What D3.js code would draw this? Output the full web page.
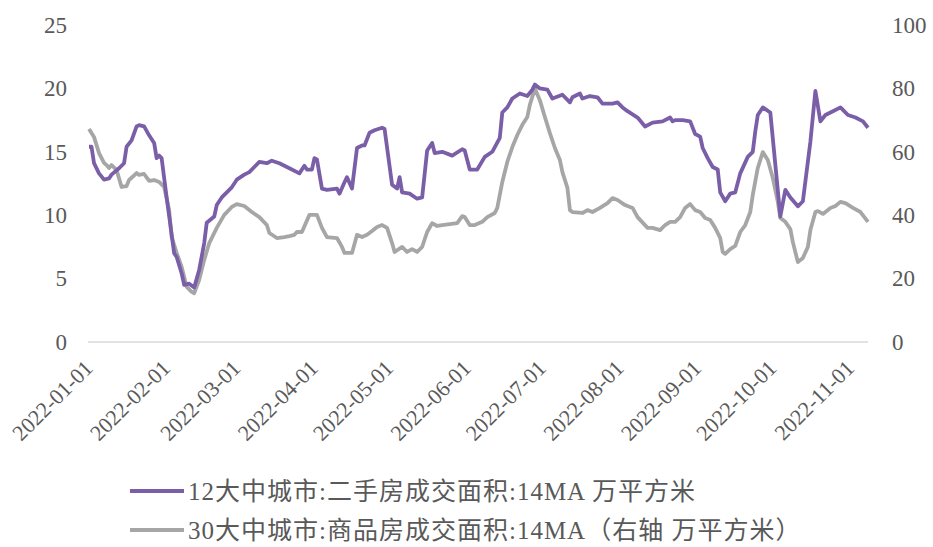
<!DOCTYPE html>
<html>
<head>
<meta charset="utf-8">
<script src="https://cdn.jsdelivr.net/npm/d3@7"></script>
<style>
  body { margin: 0; background: #fff; }
  text { font-family: "Liberation Serif", "Noto Sans CJK SC", serif; fill: #595959; }
</style>
</head>
<body>
<div id="viz"></div>
<script>
// 12大中城市 二手房 (left axis)
var secondDates = ["2022-01-01","2022-01-02","2022-01-03","2022-01-05","2022-01-07","2022-01-09","2022-01-10","2022-01-13","2022-01-15","2022-01-16","2022-01-18","2022-01-20","2022-01-21","2022-01-23","2022-01-25","2022-01-27","2022-01-28","2022-01-29","2022-01-30","2022-02-01","2022-02-04","2022-02-05","2022-02-07","2022-02-08","2022-02-10","2022-02-12","2022-02-14","2022-02-16","2022-02-17","2022-02-20","2022-02-21","2022-02-23","2022-02-25","2022-02-27","2022-03-01","2022-03-04","2022-03-06","2022-03-08","2022-03-10","2022-03-13","2022-03-15","2022-03-18","2022-03-22","2022-03-26","2022-03-28","2022-03-29","2022-03-31","2022-04-01","2022-04-02","2022-04-04","2022-04-06","2022-04-10","2022-04-11","2022-04-13","2022-04-14","2022-04-16","2022-04-18","2022-04-20","2022-04-21","2022-04-23","2022-04-25","2022-04-28","2022-04-29","2022-05-02","2022-05-04","2022-05-05","2022-05-06","2022-05-09","2022-05-12","2022-05-14","2022-05-16","2022-05-18","2022-05-19","2022-05-22","2022-05-26","2022-05-30","2022-05-31","2022-06-02","2022-06-05","2022-06-08","2022-06-11","2022-06-14","2022-06-15","2022-06-17","2022-06-19","2022-06-22","2022-06-25","2022-06-27","2022-06-28","2022-06-30","2022-07-03","2022-07-05","2022-07-09","2022-07-12","2022-07-13","2022-07-16","2022-07-17","2022-07-20","2022-07-23","2022-07-25","2022-07-29","2022-07-31","2022-08-02","2022-08-04","2022-08-08","2022-08-11","2022-08-14","2022-08-18","2022-08-21","2022-08-22","2022-08-23","2022-08-26","2022-08-29","2022-08-31","2022-09-02","2022-09-03","2022-09-05","2022-09-07","2022-09-09","2022-09-10","2022-09-12","2022-09-14","2022-09-16","2022-09-18","2022-09-21","2022-09-23","2022-09-24","2022-09-25","2022-09-27","2022-09-30","2022-10-02","2022-10-04","2022-10-06","2022-10-08","2022-10-11","2022-10-13","2022-10-16","2022-10-18","2022-10-20","2022-10-22","2022-10-25","2022-10-28","2022-10-31","2022-11-03","2022-11-06","2022-11-08"];
var secondValues = [15.4,15.4,14.1,13.3,12.8,12.9,13.2,13.7,14.1,15.4,15.9,17.0,17.1,17.0,16.3,15.7,14.5,14.7,14.5,11.4,7.0,6.7,5.4,4.5,4.6,4.3,5.7,7.8,9.4,9.9,10.8,11.4,11.8,12.2,12.8,13.2,13.4,13.8,14.2,14.1,14.3,14.1,13.7,13.3,13.9,13.6,13.6,14.5,14.4,12.1,12.0,12.1,11.7,12.6,13.0,12.1,15.3,15.5,15.5,16.5,16.7,16.9,16.8,12.4,12.1,13.0,11.8,11.7,11.3,11.4,15.1,15.7,14.9,15.0,14.7,15.2,15.1,13.6,13.6,14.6,15.0,16.1,18.1,18.5,19.2,19.6,19.4,19.9,20.3,20.0,19.9,19.2,19.5,18.9,19.3,19.6,19.2,19.4,19.3,18.8,18.8,18.9,18.5,18.2,17.7,17.0,17.3,17.4,17.7,17.4,17.5,17.5,17.4,16.4,16.2,15.3,14.5,13.8,13.6,11.8,11.1,11.7,11.8,13.3,14.6,15.0,16.6,17.9,18.5,18.1,14.0,9.9,12.0,11.4,10.7,11.1,15.8,19.8,17.4,17.9,18.2,18.5,17.9,17.7,17.4,16.9];

// 30大中城市 商品房 (right axis)
var newDates = ["2022-01-01","2022-01-03","2022-01-05","2022-01-07","2022-01-08","2022-01-09","2022-01-10","2022-01-12","2022-01-14","2022-01-16","2022-01-17","2022-01-20","2022-01-21","2022-01-23","2022-01-25","2022-01-27","2022-01-29","2022-01-31","2022-02-02","2022-02-03","2022-02-05","2022-02-07","2022-02-09","2022-02-11","2022-02-12","2022-02-14","2022-02-16","2022-02-18","2022-02-21","2022-02-24","2022-02-27","2022-03-01","2022-03-04","2022-03-07","2022-03-10","2022-03-13","2022-03-14","2022-03-17","2022-03-20","2022-03-22","2022-03-24","2022-03-25","2022-03-27","2022-03-30","2022-04-02","2022-04-04","2022-04-06","2022-04-10","2022-04-12","2022-04-13","2022-04-16","2022-04-18","2022-04-20","2022-04-22","2022-04-24","2022-04-26","2022-04-28","2022-04-30","2022-05-02","2022-05-03","2022-05-06","2022-05-08","2022-05-10","2022-05-12","2022-05-14","2022-05-16","2022-05-18","2022-05-20","2022-05-22","2022-05-25","2022-05-28","2022-05-30","2022-05-31","2022-06-02","2022-06-04","2022-06-07","2022-06-09","2022-06-12","2022-06-13","2022-06-15","2022-06-17","2022-06-19","2022-06-21","2022-06-23","2022-06-25","2022-06-26","2022-06-28","2022-06-30","2022-07-02","2022-07-04","2022-07-06","2022-07-08","2022-07-09","2022-07-11","2022-07-12","2022-07-13","2022-07-17","2022-07-19","2022-07-21","2022-07-24","2022-07-27","2022-07-29","2022-07-31","2022-08-03","2022-08-06","2022-08-08","2022-08-12","2022-08-14","2022-08-17","2022-08-19","2022-08-21","2022-08-23","2022-08-25","2022-08-27","2022-08-29","2022-08-31","2022-09-02","2022-09-04","2022-09-06","2022-09-08","2022-09-10","2022-09-11","2022-09-12","2022-09-14","2022-09-16","2022-09-18","2022-09-20","2022-09-22","2022-09-23","2022-09-25","2022-09-27","2022-09-29","2022-10-01","2022-10-03","2022-10-04","2022-10-06","2022-10-08","2022-10-09","2022-10-11","2022-10-13","2022-10-15","2022-10-16","2022-10-18","2022-10-19","2022-10-21","2022-10-24","2022-10-26","2022-10-28","2022-10-30","2022-11-02","2022-11-05","2022-11-08"];
var newValues = [67.2,64.7,59.6,56.5,55.8,54.9,55.8,54.3,48.9,49.2,51.1,53.3,52.7,53.0,50.8,51.1,50.5,48.9,41.6,33.1,28.1,23.7,17.4,15.8,15.4,19.6,25.9,31.2,36.0,40.1,42.6,43.5,42.9,41.0,39.4,36.9,34.4,32.8,33.1,33.4,33.8,34.7,34.7,40.1,40.1,36.0,33.1,32.8,30.0,28.1,28.1,33.8,33.1,33.8,35.0,36.3,36.9,36.0,31.2,28.4,30.0,28.4,29.3,28.4,30.0,34.7,37.5,36.6,36.9,37.2,37.5,39.7,39.4,36.9,36.9,37.9,39.4,40.7,42.3,50.5,56.8,61.5,65.3,68.5,71.0,74.8,80.0,76.3,71.0,65.9,61.2,57.4,53.6,48.6,41.6,41.0,40.7,41.6,41.0,42.3,43.8,45.4,44.8,43.2,42.3,39.4,36.0,36.0,35.3,36.9,37.9,37.9,39.4,42.3,43.5,41.6,41.0,39.1,38.5,36.0,32.8,28.4,27.8,29.3,30.3,34.7,36.9,41.0,46.4,54.9,59.9,57.4,51.7,44.2,39.1,37.9,35.6,31.5,25.2,26.5,30.0,35.3,41.0,41.3,40.4,42.3,42.9,44.2,43.8,42.3,41.0,37.9];

var leftTicks = [0, 5, 10, 15, 20, 25];
var rightTicks = [0, 20, 40, 60, 80, 100];
var dateTicks = ["2022-01-01","2022-02-01","2022-03-01","2022-04-01","2022-05-01","2022-06-01","2022-07-01","2022-08-01","2022-09-01","2022-10-01","2022-11-01"];
var legendLabels = ["12大中城市:二手房成交面积:14MA 万平方米", "30大中城市:商品房成交面积:14MA（右轴 万平方米）"];

var width = 933, height = 547;
var purple = "#7b5ea8", grey = "#a6a6a6";
var parse = d3.timeParse("%Y-%m-%d");

var x = d3.scaleTime()
  .domain([parse("2022-01-01"), parse("2022-11-08")])
  .range([89, 868]);
var yL = d3.scaleLinear().domain([0, 25]).range([342, 25]);
var yR = d3.scaleLinear().domain([0, 100]).range([342, 25]);

var svg = d3.select("#viz").append("svg")
  .attr("width", width)
  .attr("height", height);

// baseline
svg.append("line")
  .attr("x1", 88).attr("x2", 868)
  .attr("y1", yL(0)).attr("y2", yL(0))
  .attr("stroke", "#d9d9d9").attr("stroke-width", 1.5);

var leftAxis = d3.axisLeft(yL).tickValues(leftTicks).tickSize(0).tickPadding(0);
svg.append("g")
  .attr("transform", "translate(67,0)")
  .call(leftAxis)
  .call(function(g) { g.select(".domain").remove(); })
  .selectAll("text")
    .style("font-size", "23px")
    .attr("fill", "#595959");

var rightAxis = d3.axisRight(yR).tickValues(rightTicks).tickSize(0).tickPadding(0);
svg.append("g")
  .attr("transform", "translate(892,0)")
  .call(rightAxis)
  .call(function(g) { g.select(".domain").remove(); })
  .selectAll("text")
    .style("font-size", "23px")
    .attr("fill", "#595959");

var bottomAxis = d3.axisBottom(x)
  .tickValues(dateTicks.map(parse))
  .tickFormat(d3.timeFormat("%Y-%m-%d"))
  .tickSize(0).tickPadding(0);
svg.append("g")
  .attr("transform", "translate(0," + (yL(0) + 22) + ")")
  .call(bottomAxis)
  .call(function(g) { g.select(".domain").remove(); })
  .selectAll("text")
    .style("font-size", "22px")
    .attr("fill", "#595959")
    .attr("text-anchor", "end")
    .attr("dy", "0.35em")
    .attr("transform", "translate(-1,0) rotate(-45)");

var line = function(yScale) {
  return d3.line()
    .x(function(d) { return x(d[0]); })
    .y(function(d) { return yScale(d[1]); });
};

var greyData = newDates.map(function(d, i) { return [parse(d), newValues[i]]; });
var purpleData = secondDates.map(function(d, i) { return [parse(d), secondValues[i]]; });

svg.append("path")
  .datum(greyData)
  .attr("fill", "none")
  .attr("stroke", grey)
  .attr("stroke-width", 3.8)
  .attr("stroke-linejoin", "round")
  .attr("d", line(yR));

svg.append("path")
  .datum(purpleData)
  .attr("fill", "none")
  .attr("stroke", purple)
  .attr("stroke-width", 3.8)
  .attr("stroke-linejoin", "round")
  .attr("d", line(yL));

// legend
var legend = svg.selectAll(".legend")
  .data(legendLabels)
  .enter().append("g")
    .attr("class", "legend")
    .attr("transform", function(d, i) { return "translate(130," + (491 + i * 39) + ")"; });

legend.append("line")
  .attr("x1", 0).attr("x2", 54)
  .attr("stroke", function(d, i) { return i === 0 ? purple : grey; })
  .attr("stroke-width", 3.8);

legend.append("text")
  .attr("x", 58)
  .attr("dy", "0.35em")
  .style("font-size", "25px")
  .style("letter-spacing", "1px")
  .attr("fill", "#404040")
  .text(function(d) { return d; });
</script>
</body>
</html>
